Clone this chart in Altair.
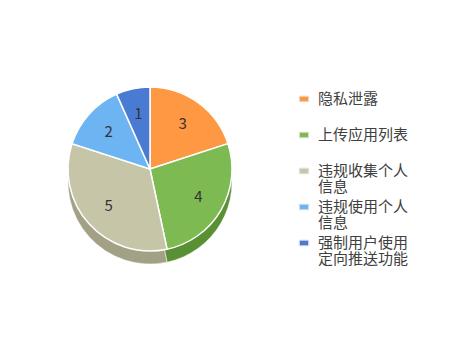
import altair as alt
import pandas as pd

categories = ["隐私泄露", "上传应用列表", "违规收集个人信息", "违规使用个人信息", "强制用户使用定向推送功能"]
legend_line1 = ["隐私泄露", "上传应用列表", "违规收集个人", "违规使用个人", "强制用户使用"]
legend_line2 = ["", "", "信息", "信息", "定向推送功能"]
values = [3, 4, 5, 2, 1]
colors = ["#FF9843", "#7DBA52", "#C7C5A8", "#6DB4F2", "#4A7BD2"]
side_colors = ["#C9722C", "#5A9034", "#A3A185", "#4E90CC", "#2F5DAE"]

df = pd.DataFrame({
    "category": categories,
    "line1": legend_line1,
    "line2": legend_line2,
    "value": values,
    "order": list(range(len(categories))),
    "side": side_colors,
})

CX, CY, R, DEPTH = 150, 169, 82, 13
FONT = "Noto Sans CJK SC"

color_scale = alt.Scale(domain=categories, range=colors)

base = alt.Chart(df)

side = base.mark_arc(stroke="#ffffff", strokeWidth=0.5).encode(
    theta=alt.Theta("value:Q", stack=True),
    order=alt.Order("order:Q"),
    color=alt.Color("side:N", scale=None),
    x=alt.value(CX),
    y=alt.value(CY + DEPTH),
    radius=alt.value(R),
)

top = base.mark_arc(stroke="#ffffff", strokeWidth=1.5).encode(
    theta=alt.Theta("value:Q", stack=True),
    order=alt.Order("order:Q"),
    color=alt.Color("category:N", scale=color_scale, legend=None),
    x=alt.value(CX),
    y=alt.value(CY),
    radius=alt.value(R),
)

labels = base.mark_text(font=FONT, fontSize=15, color="#333333").encode(
    theta=alt.Theta("value:Q", stack=True),
    order=alt.Order("order:Q"),
    text=alt.Text("value:Q"),
    x=alt.value(CX),
    y=alt.value(CY),
    radius=alt.value(R * 0.68),
)

legend_y = alt.Y("order:O", scale=alt.Scale(range=[99, 243], padding=0), axis=None)

legend_sym = base.mark_point(
    shape="M-1,-0.6L1,-0.6L1,0.6L-1,0.6Z", size=90, filled=True, opacity=1,
    stroke="#e6e6e6", strokeWidth=1,
).encode(
    x=alt.value(304),
    y=legend_y,
    color=alt.Color("category:N", scale=color_scale, legend=None),
)

legend_txt1 = base.mark_text(
    font=FONT, fontSize=15, color="#404040", align="left", baseline="middle",
).encode(
    x=alt.value(318),
    y=legend_y,
    text=alt.Text("line1:N"),
)

legend_txt2 = base.transform_filter("datum.line2 != ''").mark_text(
    font=FONT, fontSize=15, color="#404040", align="left", baseline="middle", dy=16,
).encode(
    x=alt.value(318),
    y=legend_y,
    text=alt.Text("line2:N"),
)

chart = alt.layer(side, top, labels, legend_sym, legend_txt1, legend_txt2).properties(
    width=452,
    height=354,
    padding=0,
    autosize="none",
    background="#ffffff",
).configure_view(stroke=None)

chart.save("out.html", embed_options={"renderer": "svg", "actions": False})
